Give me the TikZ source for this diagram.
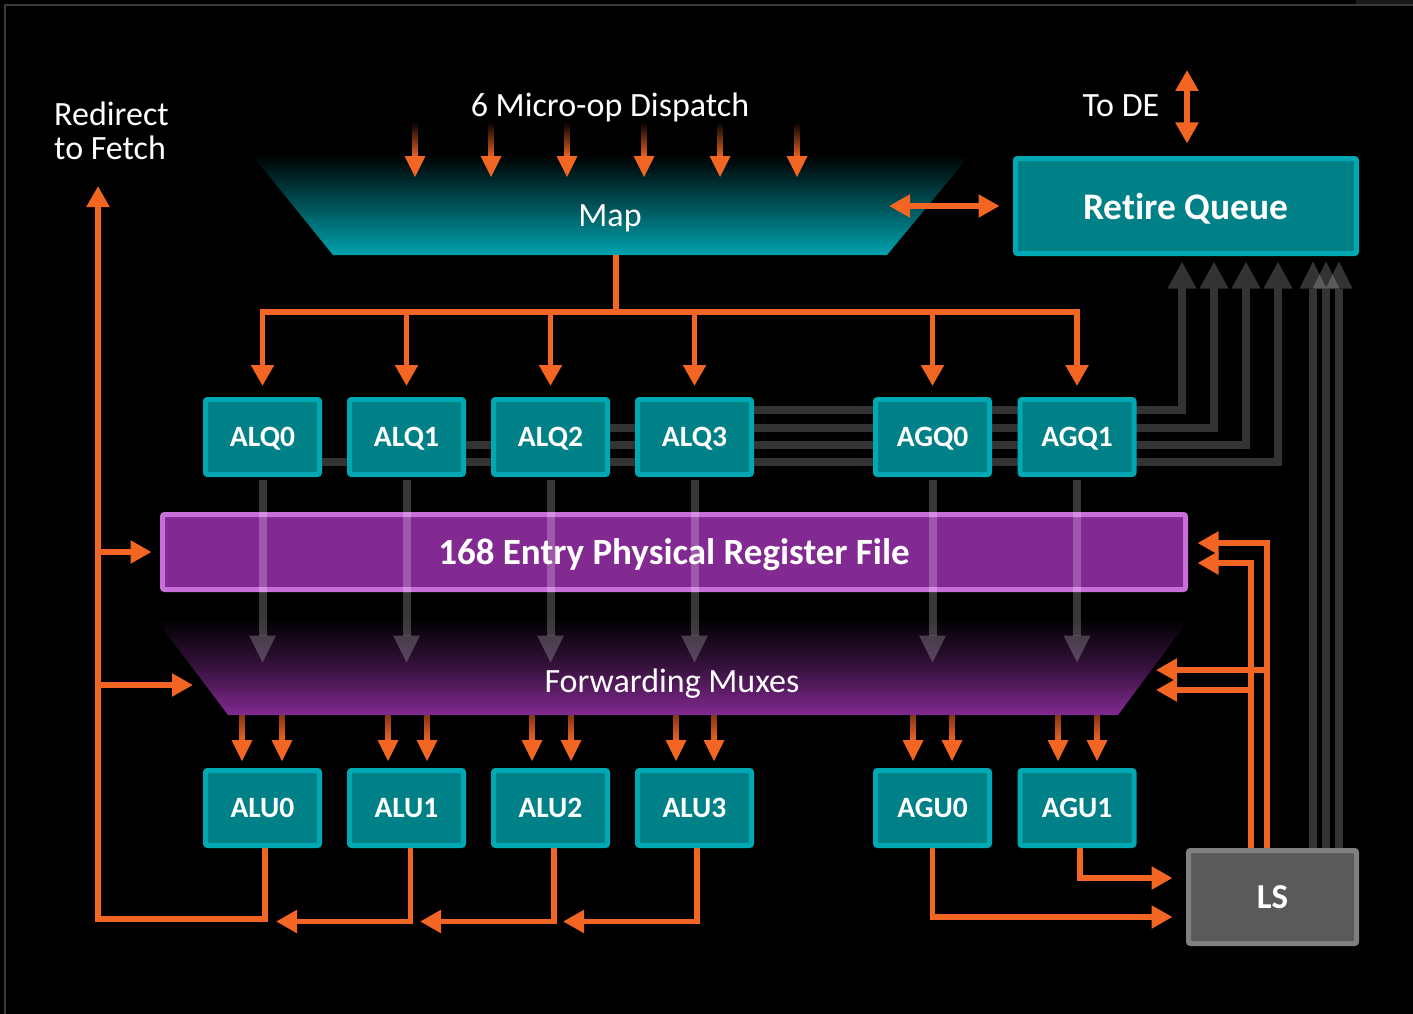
\documentclass[tikz,border=0pt]{standalone}
\usepackage{fontspec}
\setmainfont{Carlito}[Ligatures={NoCommon}]
\usetikzlibrary{arrows.meta,calc}
\pgfdeclarelayer{back}
\pgfdeclarelayer{bg}
\pgfdeclarelayer{front}
\pgfsetlayers{back,bg,main,front}
\definecolor{orng}{HTML}{F26522}
\definecolor{tealfill}{HTML}{008087}
\definecolor{tealedge}{HTML}{00A8B4}
\definecolor{mapteal}{HTML}{00A3AE}
\definecolor{purp}{HTML}{822A91}
\definecolor{purpedge}{HTML}{C86ED7}
\definecolor{lsfill}{HTML}{5A5A5A}
\definecolor{lsedge}{HTML}{808080}
\definecolor{gline}{HTML}{333333}
\definecolor{framegray}{HTML}{3A3A3A}
\newcommand\FadeArr[4]{%
  \shade[top color=#4, bottom color=orng] ({#1-2.75},#2) rectangle ({#1+2.75},{#3-19});
  \fill[orng] ({#1-10.5},{#3-21}) -- ({#1+10.5},{#3-21}) -- (#1,#3) -- cycle;}
\begin{document}
\begin{tikzpicture}[x=1pt,y=-1pt,
  oline/.style={draw=orng, line width=5.5pt},
  oarr/.style={oline, -{Triangle[width=22pt,length=21pt]}},
  odbl/.style={oline, {Triangle[width=22pt,length=21pt]}-{Triangle[width=22pt,length=21pt]}},
  rline/.style={draw=gline, line width=8pt, -{Triangle[width=27pt,length=27pt]}},
  tline/.style={draw=white, draw opacity=0.2, line width=8pt},
  ttip/.style={fill=white, fill opacity=0.2},
  qline/.style={draw=white, draw opacity=0.22, line width=8pt},
  qtip/.style={fill=white, fill opacity=0.22},
  qbox/.style={draw=tealedge, fill=tealfill, line width=5pt, minimum width=114pt, minimum height=75pt, rounded corners=2pt, text=white, font=\fontsize{29.5}{33}\selectfont\bfseries, inner sep=0pt, text depth=0pt},
  rqbox/.style={qbox, minimum width=341pt, minimum height=95pt, font=\fontsize{37.5}{42}\selectfont\bfseries},
  prfbox/.style={draw=purpedge, fill=purp, line width=5pt, minimum width=1023pt, minimum height=75pt, rounded corners=2pt, text=white, font=\fontsize{37}{42}\selectfont\bfseries, inner sep=0pt, text depth=0pt},
  lsbox/.style={draw=lsedge, fill=lsfill, line width=5pt, minimum width=168pt, minimum height=93pt, rounded corners=2pt, text=white, font=\fontsize{35}{40}\selectfont\bfseries, inner sep=0pt, text depth=0pt},
  lbl/.style={text=white, font=\fontsize{34}{40}\selectfont, inner sep=0pt}
]
\useasboundingbox (0,0) rectangle (1413,1014);
\begin{pgfonlayer}{back}
  \fill[black] (0,0) rectangle (1413,1014);
  \draw[framegray, line width=1.5pt] (5,1014) -- (5,5) -- (1413,5);
  \fill[black!90!white] (1356,0) rectangle (1413,4);
  % Map trapezoid
  \shade[top color=black, bottom color=mapteal] (252,155) -- (970,155) -- (887,255) -- (333,255) -- cycle;
  % Forwarding muxes trapezoid
  \shade[top color=black, bottom color=purp, middle color=purp!42!black] (155,618) -- (1190,618) -- (1118,715) -- (228,715) -- cycle;
\end{pgfonlayer}

% ---------- boxes ----------
\node[qbox] (alq0) at (262.5,437) {ALQ0};
\node[qbox] (alq1) at (406.5,437) {ALQ1};
\node[qbox] (alq2) at (550.5,437) {ALQ2};
\node[qbox] (alq3) at (694.5,437) {ALQ3};
\node[qbox] (agq0) at (932.5,437) {AGQ0};
\node[qbox] (agq1) at (1077,437) {AGQ1};
\node[qbox] (alu0) at (262.5,808) {ALU0};
\node[qbox] (alu1) at (406.5,808) {ALU1};
\node[qbox] (alu2) at (550.5,808) {ALU2};
\node[qbox] (alu3) at (694.5,808) {ALU3};
\node[qbox] (agu0) at (932.5,808) {AGU0};
\node[qbox] (agu1) at (1077,808) {AGU1};
\node[rqbox] (rq) at (1186,206) {Retire Queue};
\node[prfbox] (prf) at (674,552) {168 Entry Physical Register File};
\node[lsbox] (ls) at (1272.5,897) {LS};

% ---------- labels ----------
\node[lbl, anchor=base] (disp) at (610,117) {6 Micro-op Dispatch};
\node[lbl, anchor=base] (map) at (610,226) {Map};
\node[lbl, anchor=base] (fwd) at (672,692) {Forwarding Muxes};
\node[lbl, anchor=base] (tode) at (1121,117) {To DE};
\node[lbl, anchor=base west] (rd1) at (54,125) {Redirect};
\node[lbl, anchor=base west] (rd2) at (54,160) {to Fetch};

% ---------- coordinates ----------
\coordinate (mapB) at (616,255);
\coordinate (bus) at (616,312);
\coordinate (mapR) at (889,206);
\coordinate (toDE) at (1187,70);
\coordinate (fetch) at (98,186);
\coordinate (redirL) at (98,919);
\coordinate (muxL) at (193,685);
\coordinate (muxR1) at (1156,670);
\coordinate (muxR2) at (1156,690);
\coordinate (lsA) at ($(ls.north)+(-5.5,0)$);
\coordinate (lsB) at ($(ls.north)+(-21.5,0)$);

\begin{pgfonlayer}{bg}
  % dispatch arrows
  \foreach \x in {415,491,567,644,720,797} {\FadeArr{\x}{122}{177}{black}}
  % map stem and bus
  \draw[oline] (mapB) -- (bus);
  \foreach \n in {alq0,alq1,alq2,alq3,agq0,agq1}
    \draw[oarr] (bus) -| ($(\n.north)+(0,-11)$);
  % map <-> retire queue, to DE
  \draw[odbl] (mapR) -- ($(rq.west)+(-13.5,0)$);
  \draw[odbl] (toDE) -- ($(rq.north)+(1,-12.5)$);
  % retire lines from queues
  \draw[rline] ($(alq3.center)+(0,-27)$) -| ($(rq.south)+(-4,5.5)$);
  \draw[rline] ($(alq2.center)+(0,-9)$) -| ($(rq.south)+(28,5.5)$);
  \draw[rline] ($(alq1.center)+(0,8)$) -| ($(rq.south)+(60,5.5)$);
  \draw[rline] ($(alq0.center)+(0,25)$) -| ($(rq.south)+(92,5.5)$);
  % LS to retire queue
  \foreach \dx/\rx in {40.5/127,53.5/140,66.5/153} {
    \draw[tline] ($(ls.north)+(\dx,0)$) -- ($(rq.south)+(\rx,32.5)$);
    \fill[ttip] ($(rq.south)+(\rx-13.5,32.5)$) -- ($(rq.south)+(\rx+13.5,32.5)$) -- ($(rq.south)+(\rx,5.5)$) -- cycle;
  }
  % mux to execution units
  \foreach \x in {242,282,388,427,532,571,676,714,913,952,1058,1097} {\FadeArr{\x}{715}{761}{orng!55!black}}
  % redirect path
  \draw[oarr] ($(alu0.south)+(2.5,0)$) |- (redirL) -- (fetch);
  \draw[oarr] (redirL |- prf.west) -- ($(prf.west)+(-8.5,0)$);
  \draw[oarr] (redirL |- muxL) -- (muxL);
  % ALU chain
  \draw[oarr] ($(alu1.south)+(4,0)$) |- ($(alu0.south)+(13.5,73.5)$);
  \draw[oarr] ($(alu2.south)+(3.5,0)$) |- ($(alu1.south)+(13.5,73.5)$);
  \draw[oarr] ($(alu3.south)+(2.5,0)$) |- ($(alu2.south)+(12.5,73.5)$);
  % AGU to LS
  \draw[oarr] (agu0.south) |- ($(ls.west)+(-13.5,20)$);
  \draw[oarr] ($(agu1.south)+(3,0)$) |- ($(ls.west)+(-13.5,-19)$);
  % LS feedback
  \draw[oarr] (lsA) |- ($(prf.east)+(9.5,-9)$);
  \draw[oarr] (lsB) |- ($(prf.east)+(9.5,11)$);
  \draw[oarr] (muxR1 -| lsA) -- (muxR1);
  \draw[oarr] (muxR2 -| lsB) -- (muxR2);
\end{pgfonlayer}

\begin{pgfonlayer}{front}
  \foreach \n in {alq0,alq1,alq2,alq3,agq0,agq1} {
    \draw[qline] ($(\n.south)+(0,2.5)$) -- ($(\n.south)+(0,158.5)$);
    \fill[qtip] ($(\n.south)+(-13.5,158.5)$) -- ($(\n.south)+(13.5,158.5)$) -- ($(\n.south)+(0,185.5)$) -- cycle;
  }
\end{pgfonlayer}
\end{tikzpicture}
\end{document}
